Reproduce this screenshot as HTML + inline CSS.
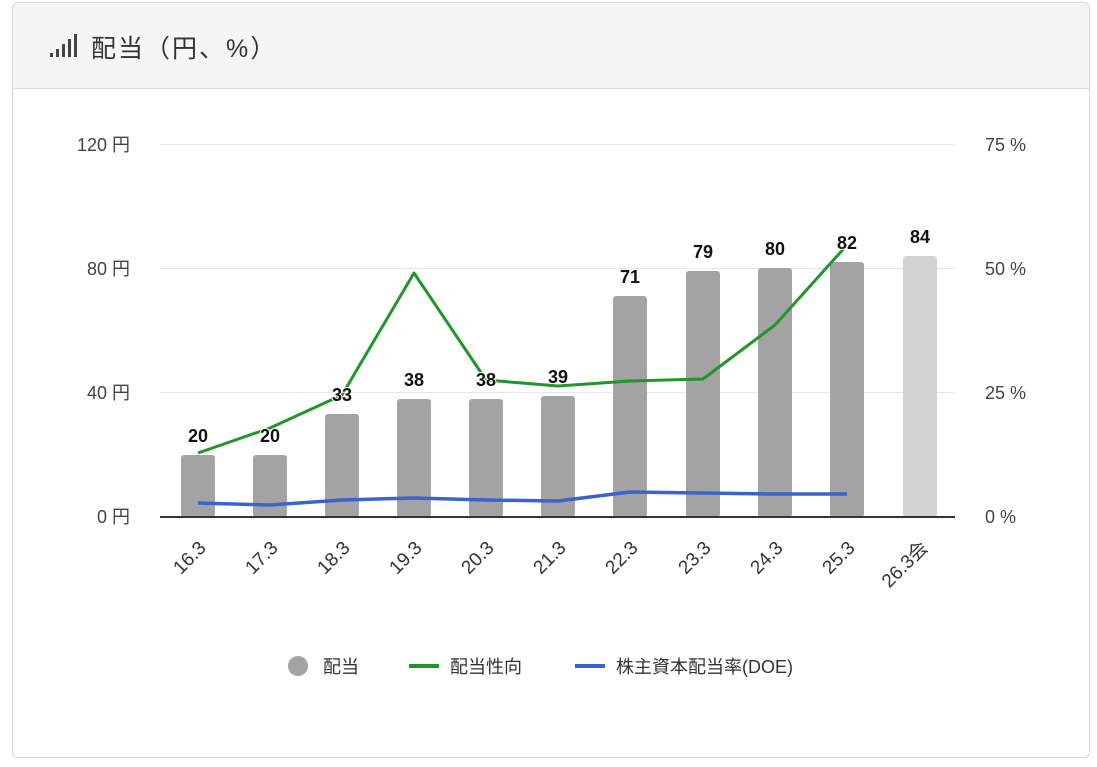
<!DOCTYPE html>
<html><head><meta charset="utf-8"><style>
body{margin:0;background:#fff;width:1097px;height:762px;overflow:hidden;font-family:"Liberation Sans","Noto Sans CJK JP",sans-serif;}
</style></head><body>
<svg width="1097" height="762" xmlns="http://www.w3.org/2000/svg" font-family="Liberation Sans, Noto Sans CJK JP, sans-serif">
<rect x="12.5" y="2.5" width="1077" height="755" rx="5" fill="#fff" stroke="#d8d8d8"/>
<path d="M13 88 V8 a5 5 0 0 1 5 -5 H1084 a5 5 0 0 1 5 5 V88 Z" fill="#f5f5f5"/>
<line x1="13" y1="88.5" x2="1089" y2="88.5" stroke="#dcdcdc"/>
<g fill="#444"><rect x="50" y="53" width="3" height="4"/><rect x="56" y="49" width="3" height="8"/><rect x="62" y="44" width="3" height="13"/><rect x="68" y="39" width="3" height="18"/><rect x="74" y="34" width="3" height="23"/></g>
<text x="91" y="57" font-size="25" letter-spacing="2" fill="#333">配当（円、%）</text>
<g stroke="#e6e6e6" stroke-width="1"><line x1="160" y1="144.5" x2="955" y2="144.5"/><line x1="160" y1="268.5" x2="955" y2="268.5"/><line x1="160" y1="392.5" x2="955" y2="392.5"/></g>
<g font-size="18" fill="#444" text-anchor="end"><text x="130" y="151">120 円</text><text x="130" y="275">80 円</text><text x="130" y="399">40 円</text><text x="130" y="523">0 円</text></g>
<g font-size="18" fill="#444"><text x="985" y="151">75 %</text><text x="985" y="275">50 %</text><text x="985" y="399">25 %</text><text x="985" y="523">0 %</text></g>
<g fill="#a3a3a3">
<rect x="181" y="455" width="34" height="62" rx="3"/>
<rect x="253" y="455" width="34" height="62" rx="3"/>
<rect x="325" y="414" width="34" height="103" rx="3"/>
<rect x="397" y="399" width="34" height="118" rx="3"/>
<rect x="469" y="399" width="34" height="118" rx="3"/>
<rect x="541" y="396" width="34" height="121" rx="3"/>
<rect x="613" y="296" width="34" height="221" rx="3"/>
<rect x="686" y="271" width="34" height="246" rx="3"/>
<rect x="758" y="268" width="34" height="249" rx="3"/>
<rect x="830" y="262" width="34" height="255" rx="3"/>
</g>
<rect x="903" y="256" width="34" height="261" rx="3" fill="#d3d3d3"/>
<line x1="160" y1="517" x2="955" y2="517" stroke="#333" stroke-width="2"/>
<polyline fill="none" stroke="#3a64cc" stroke-width="3.5" stroke-linejoin="round" points="198,503 270,505 342,500 414,498 486,500 558,501 630,492 703,493 775,494 847,494"/>
<polyline fill="none" stroke="#22962a" stroke-width="3" stroke-linejoin="round" points="198,453 270,428 342,395 414,273 486,380 558,386 630,381 703,379 775,325 847,245"/>
<g font-size="18" font-weight="bold" fill="#111" text-anchor="middle" stroke="#fff" stroke-width="2" paint-order="stroke">
<text x="198" y="442">20</text><text x="270" y="442">20</text><text x="342" y="401">33</text><text x="414" y="386">38</text><text x="486" y="386">38</text><text x="558" y="383">39</text><text x="630" y="283">71</text><text x="703" y="258">79</text><text x="775" y="255">80</text><text x="847" y="249">82</text><text x="920" y="243">84</text>
</g>
<g font-size="19" fill="#333" text-anchor="end">
<text transform="translate(207,549) rotate(-45)">16.3</text>
<text transform="translate(279,549) rotate(-45)">17.3</text>
<text transform="translate(351,549) rotate(-45)">18.3</text>
<text transform="translate(423,549) rotate(-45)">19.3</text>
<text transform="translate(495,549) rotate(-45)">20.3</text>
<text transform="translate(567,549) rotate(-45)">21.3</text>
<text transform="translate(639,549) rotate(-45)">22.3</text>
<text transform="translate(712,549) rotate(-45)">23.3</text>
<text transform="translate(784,549) rotate(-45)">24.3</text>
<text transform="translate(856,549) rotate(-45)">25.3</text>
<text transform="translate(929,549) rotate(-45)">26.3会</text>
</g>
<circle cx="298" cy="666" r="10" fill="#a3a3a3"/>
<text x="323" y="673" font-size="18" fill="#333">配当</text>
<line x1="409" y1="666" x2="439" y2="666" stroke="#22962a" stroke-width="4"/>
<text x="450" y="673" font-size="18" fill="#333">配当性向</text>
<line x1="575" y1="666" x2="605" y2="666" stroke="#3a64cc" stroke-width="4"/>
<text x="616" y="673" font-size="18" fill="#333">株主資本配当率(DOE)</text>
</svg>
</body></html>
